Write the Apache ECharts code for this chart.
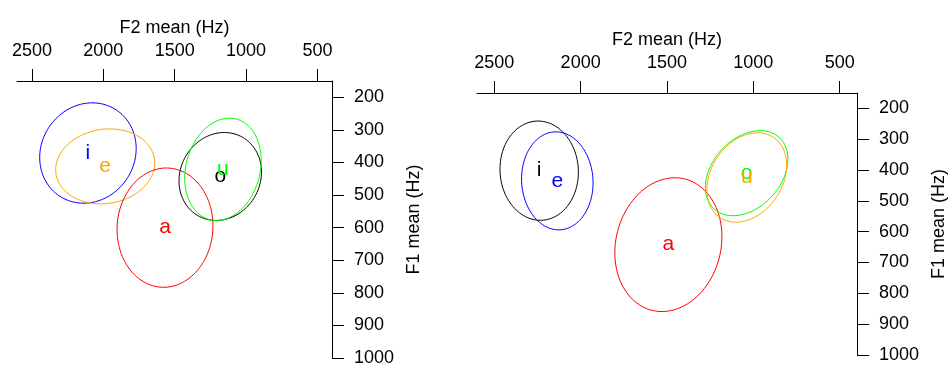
<!DOCTYPE html>
<html>
<head>
<meta charset="utf-8">
<script src="https://cdn.jsdelivr.net/npm/echarts@6/dist/echarts.min.js"></script>
<style>
html,body{margin:0;padding:0;background:#fff;}
#chart{width:949px;height:367px;}
</style>
</head>
<body>
<div id="chart"></div>
<script>
// ---- data ----
const vowels = ['i', 'e', 'a', 'o', 'u'];

// left panel: mean F2, mean F1, ellipse half-extent in F2 / F1, F2-F1 correlation
const leftF2 = [2108, 1987, 1568, 1181, 1162];
const leftF1 = [371, 412, 600, 443, 421];
const leftF2Half = [338, 347, 336, 289, 268];
const leftF1Half = [154, 115, 183, 135, 157];
const leftRho = [0.09, 0.09, 0.03, 0.10, 0.17];
const leftColors = ['#0000FF', '#FFA500', '#FF0000', '#000000', '#00FF00'];

// right panel
const rightF2 = [2240, 2135, 1492, 1039, 1038];
const rightF1 = [402, 435, 642, 410, 424];
const rightF2Half = [227, 207, 310, 239, 231];
const rightF1Half = [161, 159, 217, 138, 145];
const rightRho = [-0.03, -0.04, 0.12, 0.33, 0.27];
const rightColors = ['#000000', '#0000FF', '#FF0000', '#00FF00', '#FFA500'];

const f2Ticks = [500, 1000, 1500, 2000, 2500];
const f1Ticks = [200, 300, 400, 500, 600, 700, 800, 900, 1000];
const f2Title = 'F2 mean (Hz)';
const f1Title = 'F1 mean (Hz)';

// ---- chart ----
const FONT = '"Liberation Sans", Arial, Helvetica, sans-serif';
const chart = echarts.init(document.getElementById('chart'), null, {renderer: 'canvas'});

function rows(f2, f1, h2, h1, rho) {
  return vowels.map((v, i) => [f2[i], f1[i], h2[i], h1[i], rho[i], i]);
}

function makeRender(colors) {
  return function (params, api) {
    const cx = api.value(0), cy = api.value(1);
    const sx = api.value(2), sy = api.value(3), r = api.value(4);
    const idx = api.value(5);
    const q = Math.sqrt(1 - r * r);
    const pts = [];
    const N = 120;
    for (let k = 0; k < N; k++) {
      const t = 2 * Math.PI * k / N;
      const x = cx + sx * Math.cos(t);
      const y = cy + sy * (r * Math.cos(t) + q * Math.sin(t));
      pts.push(api.coord([x, y]));
    }
    const c = api.coord([cx, cy]);
    const col = colors[idx];
    return {
      type: 'group',
      children: [
        {type: 'polygon', shape: {points: pts},
         style: {fill: null, stroke: col, lineWidth: 1}},
        {type: 'text', x: c[0], y: c[1],
         style: {text: vowels[idx], fill: col, font: '21px ' + FONT,
                  align: 'center', verticalAlign: 'middle'}}
      ]
    };
  };
}

const plain = v => String(v);

function xAxisCfg(gi, min, max) {
  return {
    gridIndex: gi, type: 'value', position: 'top', inverse: true,
    min: min, max: max,
    name: f2Title, nameLocation: 'middle', nameGap: 40,
    nameTextStyle: {fontSize: 18, color: '#000', fontFamily: FONT},
    axisLine: {show: true, onZero: false, lineStyle: {color: '#000', width: 1}},
    axisTick: {show: true, inside: false, length: 12, customValues: f2Ticks,
               lineStyle: {color: '#000', width: 1}},
    axisLabel: {show: true, customValues: f2Ticks, margin: 21, fontSize: 18,
                color: '#000', fontFamily: FONT, formatter: plain,
                showMinLabel: true, showMaxLabel: true},
    splitLine: {show: false}
  };
}
function yAxisCfg(gi) {
  return {
    gridIndex: gi, type: 'value', position: 'right', inverse: true,
    min: 150, max: 1000,
    name: f1Title, nameLocation: 'middle', nameGap: 73, nameRotate: 90,
    nameTextStyle: {fontSize: 18, color: '#000', fontFamily: FONT},
    axisLine: {show: true, onZero: false, lineStyle: {color: '#000', width: 1}},
    axisTick: {show: true, inside: false, length: 12, customValues: f1Ticks,
               lineStyle: {color: '#000', width: 1}},
    axisLabel: {show: true, customValues: f1Ticks, margin: 22, fontSize: 18,
                color: '#000', fontFamily: FONT, align: 'left', formatter: plain,
                showMinLabel: true, showMaxLabel: true},
    splitLine: {show: false}
  };
}

chart.setOption({
  animation: false,
  backgroundColor: '#fff',
  grid: [
    {left: 17, top: 81, width: 315, height: 277, containLabel: false, outerBoundsMode: 'none'},
    {left: 477, top: 93, width: 380, height: 262, containLabel: false, outerBoundsMode: 'none'}
  ],
  xAxis: [xAxisCfg(0, 398, 2605), xAxisCfg(1, 400, 2600)],
  yAxis: [yAxisCfg(0), yAxisCfg(1)],
  series: [
    {type: 'custom', xAxisIndex: 0, yAxisIndex: 0, clip: false,
     data: rows(leftF2, leftF1, leftF2Half, leftF1Half, leftRho),
     renderItem: makeRender(leftColors)},
    {type: 'custom', xAxisIndex: 1, yAxisIndex: 1, clip: false,
     data: rows(rightF2, rightF1, rightF2Half, rightF1Half, rightRho),
     renderItem: makeRender(rightColors)}
  ]
});
</script>
</body>
</html>
